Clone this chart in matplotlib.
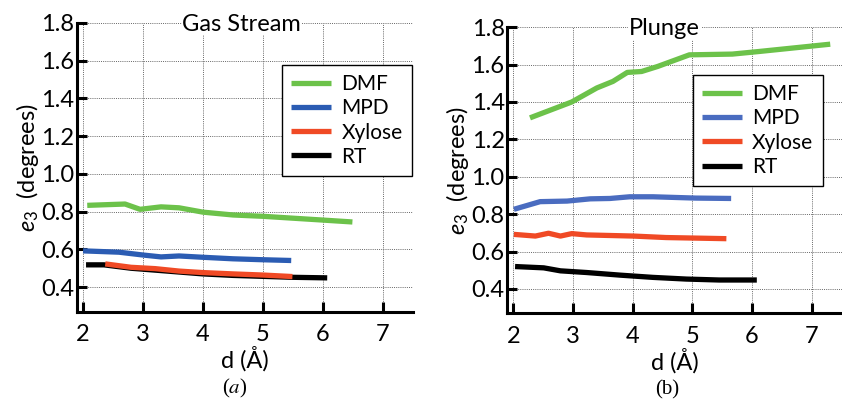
import matplotlib
matplotlib.use("Agg")
import matplotlib.pyplot as plt

plt.rcParams["font.family"] = ["Lato", "DejaVu Sans"]
plt.rcParams["mathtext.fontset"] = "custom"
plt.rcParams["mathtext.it"] = "Lato:italic"
plt.rcParams["mathtext.rm"] = "Lato"

series = ["DMF", "MPD", "Xylose", "RT"]
colors = {"DMF": "#6cc24a", "MPD": "#2b5cb3", "Xylose": "#f04a25", "RT": "#000000"}

# panel (a) Gas Stream
gas_dmf_x = [2.07, 2.7, 2.95, 3.3, 3.6, 4.0, 4.5, 5.0, 5.5, 6.0, 6.49]
gas_dmf_y = [0.833, 0.84, 0.812, 0.825, 0.82, 0.797, 0.782, 0.775, 0.765, 0.755, 0.745]
gas_mpd_x = [2.0, 2.6, 3.0, 3.3, 3.6, 4.0, 4.5, 5.0, 5.47]
gas_mpd_y = [0.592, 0.585, 0.57, 0.56, 0.565, 0.558, 0.55, 0.545, 0.541]
gas_xyl_x = [2.37, 2.8, 3.2, 3.6, 4.0, 4.5, 5.0, 5.49]
gas_xyl_y = [0.523, 0.505, 0.498, 0.485, 0.477, 0.47, 0.464, 0.456]
gas_rt_x = [2.05, 2.35, 2.8, 3.2, 3.6, 4.0, 4.5, 5.0, 5.5, 6.07]
gas_rt_y = [0.518, 0.518, 0.5, 0.49, 0.48, 0.47, 0.462, 0.457, 0.452, 0.449]

# panel (b) Plunge
plu_dmf_x = [2.28, 2.98, 3.40, 3.67, 3.91, 4.15, 4.42, 4.95, 5.67, 6.12, 7.31]
plu_dmf_y = [1.315, 1.40, 1.475, 1.51, 1.558, 1.563, 1.59, 1.652, 1.656, 1.67, 1.709]
plu_mpd_x = [2.01, 2.45, 2.90, 3.29, 3.62, 3.95, 4.34, 5.06, 5.65]
plu_mpd_y = [0.826, 0.867, 0.870, 0.882, 0.884, 0.893, 0.893, 0.886, 0.884]
plu_xyl_x = [2.01, 2.37, 2.59, 2.79, 2.98, 3.23, 4.01, 4.56, 5.57]
plu_xyl_y = [0.692, 0.683, 0.698, 0.683, 0.696, 0.689, 0.683, 0.675, 0.669]
plu_rt_x = [2.03, 2.51, 2.79, 3.23, 3.79, 4.34, 4.90, 5.45, 6.08]
plu_rt_y = [0.52, 0.513, 0.497, 0.488, 0.474, 0.462, 0.453, 0.448, 0.448]

xticks = [2, 3, 4, 5, 6, 7]
yticks = [0.4, 0.6, 0.8, 1.0, 1.2, 1.4, 1.6, 1.8]

panels = [
    dict(title="Gas Stream", rect=[0.0915, 0.2266, 0.399, 0.717], legend_anchor=(0.997, 0.854),
         data={"DMF": (gas_dmf_x, gas_dmf_y), "MPD": (gas_mpd_x, gas_mpd_y),
               "Xylose": (gas_xyl_x, gas_xyl_y), "RT": (gas_rt_x, gas_rt_y)},
         order=["DMF", "MPD", "RT", "Xylose"], title_x=0.49),
    dict(title="Plunge", rect=[0.6025, 0.2226, 0.397, 0.71], legend_anchor=(0.943, 0.833),
         data={"DMF": (plu_dmf_x, plu_dmf_y), "MPD": (plu_mpd_x, plu_mpd_y),
               "Xylose": (plu_xyl_x, plu_xyl_y), "RT": (plu_rt_x, plu_rt_y)},
         order=["DMF", "MPD", "Xylose", "RT"], title_x=0.47),
]

fig = plt.figure(figsize=(8.42, 4.03), dpi=100)

for p in panels:
    ax = fig.add_axes(p["rect"])
    handles = {}
    for name in p["order"]:
        xs, ys = p["data"][name]
        c = colors[name]
        if p["title"] == "Plunge" and name == "MPD":
            c = "#4a6cc0"
        (ln,) = ax.plot(xs, ys, color=c, lw=3.8, solid_capstyle="butt", label=name)
        handles[name] = ln
    ax.set_xlim(1.9, 7.5)
    ax.set_ylim(0.27, 1.8)
    ax.set_xticks(xticks)
    ax.set_yticks(yticks)
    ax.set_yticklabels([f"{v:.1f}" for v in yticks])
    ax.grid(True, color="#666666", ls=(0, (1, 1.2)), lw=0.7)
    ax.set_axisbelow(True)
    for s in ["top", "right"]:
        ax.spines[s].set_visible(False)
    for s in ["left", "bottom"]:
        ax.spines[s].set_linewidth(2.2)
    ax.tick_params(direction="in", length=7, width=2.2, labelsize=17, pad=2)
    ax.tick_params(axis="x", pad=9)
    ax.set_xlabel("d (Å)", fontsize=17, labelpad=1)
    ax.set_ylabel(r"$e_3$  (degrees)", fontsize=17, labelpad=0)
    ax.text(p["title_x"], 0.995, p["title"], transform=ax.transAxes, ha="center", va="center",
            fontsize=17, bbox=dict(facecolor="white", edgecolor="none", pad=0.5))
    leg = ax.legend([handles[n] for n in series], series, loc="upper right",
                    bbox_to_anchor=p["legend_anchor"], fontsize=15, fancybox=False,
                    framealpha=1, edgecolor="black", handlelength=1.9, borderpad=0.45,
                    labelspacing=0.2, handletextpad=0.5, borderaxespad=0)
    leg.get_frame().set_linewidth(1.0)

fig.text(0.279, 0.008, r"($a$)", ha="center", va="bottom", fontsize=15,
         family="Liberation Serif", math_fontfamily="stix")
fig.text(0.792, 0.008, "(b)", ha="center", va="bottom", fontsize=15, family="Liberation Serif")

fig.savefig("out.png", dpi=100)
